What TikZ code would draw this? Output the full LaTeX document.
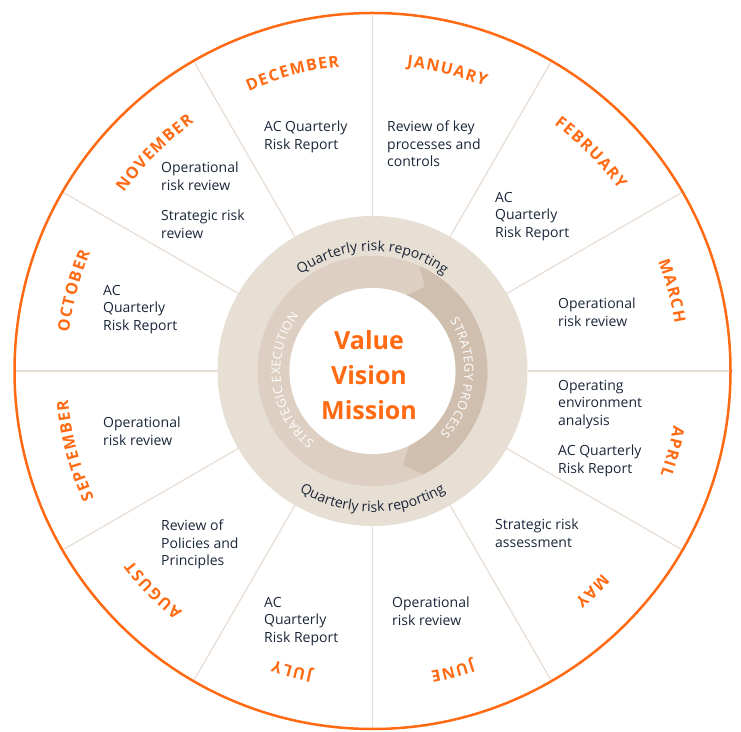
\documentclass[tikz,border=0pt]{standalone}
\usepackage{fontspec}
\setmainfont{Open Sans}
\usetikzlibrary{decorations.text}
\definecolor{morange}{HTML}{FF6A13}
\definecolor{navy}{HTML}{1A2638}
\definecolor{discbeige}{HTML}{E7DED4}
\definecolor{ringlight}{HTML}{DDD0C3}
\definecolor{ringdark}{HTML}{D0BFAF}
\definecolor{spokecol}{HTML}{E6DDD4}
\newcommand\mkrn{\kern1.3pt}
\newcommand\rkrn{\kern0.4pt}
\newcommand\monthfmt{\fontsize{16}{19}\selectfont\bfseries\color{morange}}
\newcommand\qrfmt{\fontsize{14}{17}\selectfont\color{navy}}
\newcommand\ringfmt{\fontsize{12.5}{15}\selectfont\color{white}}
\tikzset{
  spokeline/.style={draw=spokecol, line width=1.2pt},
  bodytext/.style={anchor=north west, inner sep=0pt, align=left, text=navy,
    font=\fontsize{14}{17.5}\selectfont},
  arctext/.style={decorate, decoration={text along path, text align=center, text={#1}}}
}
\begin{document}
\begin{tikzpicture}[x=1pt,y=1pt]
\useasboundingbox (0,0) rectangle (741,731);
\begin{scope}[shift={(372.5,360)}]
  \fill[discbeige] (0,0) circle[radius=155];
  \foreach \a in {0,30,...,330} \draw[spokeline] (\a:155) -- (\a:358);
  \draw[morange, line width=2.5pt] (0,0) circle[radius=358];
  % middle ring
  \fill[ringlight, even odd rule] (0,0) circle[radius=115] (0,0) circle[radius=83];
  \fill[ringdark] (66:115) arc[start angle=66, end angle=-64, radius=115]
     -- (-72:99) -- (-64:83) arc[start angle=-64, end angle=66, radius=83]
     -- (58:99) -- cycle;
  \fill[white] (0,0) circle[radius=83];
  % ring texts
  \path[arctext={|\qrfmt|Quarterly risk reporting}] (150:120) arc[start angle=150, end angle=30, radius=120];
  \path[arctext={|\qrfmt|Quarterly risk reporting}] (210:141) arc[start angle=210, end angle=330, radius=141];
  \path[arctext={|\ringfmt|{S\rkrn}{T\rkrn}{R\rkrn}{A\rkrn}{T\rkrn}{E\rkrn}{G\rkrn}{Y\rkrn} {P\rkrn}{R\rkrn}{O\rkrn}{C\rkrn}{E\rkrn}{S\rkrn}S}] (55:92) arc[start angle=55, end angle=-65, radius=92];
  \path[arctext={|\ringfmt|{S\rkrn}{T\rkrn}{R\rkrn}{A\rkrn}{T\rkrn}{E\rkrn}{G\rkrn}{I\rkrn}{C\rkrn} {E\rkrn}{X\rkrn}{E\rkrn}{C\rkrn}{U\rkrn}{T\rkrn}{I\rkrn}{O\rkrn}N}] (250:92) arc[start angle=250, end angle=124, radius=92];
  % months
  \path[arctext={|\monthfmt|{J\mkrn}{A\mkrn}{N\mkrn}{U\mkrn}{A\mkrn}{R\mkrn}Y}] (116:306) arc[start angle=116, end angle=36, radius=306];
  \path[arctext={|\monthfmt|{F\mkrn}{E\mkrn}{B\mkrn}{R\mkrn}{U\mkrn}{A\mkrn}{R\mkrn}Y}] (85:306) arc[start angle=85, end angle=5, radius=306];
  \path[arctext={|\monthfmt|{M\mkrn}{A\mkrn}{R\mkrn}{C\mkrn}H}] (55:306) arc[start angle=55, end angle=-25, radius=306];
  \path[arctext={|\monthfmt|{A\mkrn}{P\mkrn}{R\mkrn}{I\mkrn}L}] (25:306) arc[start angle=25, end angle=-55, radius=306];
  \path[arctext={|\monthfmt|{M\mkrn}{A\mkrn}Y}] (-5:306) arc[start angle=-5, end angle=-85, radius=306];
  \path[arctext={|\monthfmt|{J\mkrn}{U\mkrn}{N\mkrn}E}] (-35:306) arc[start angle=-35, end angle=-115, radius=306];
  \path[arctext={|\monthfmt|{J\mkrn}{U\mkrn}{L\mkrn}Y}] (-65:306) arc[start angle=-65, end angle=-145, radius=306];
  \path[arctext={|\monthfmt|{A\mkrn}{U\mkrn}{G\mkrn}{U\mkrn}{S\mkrn}T}] (-95:306) arc[start angle=-95, end angle=-175, radius=306];
  \path[arctext={|\monthfmt|{S\mkrn}{E\mkrn}{P\mkrn}{T\mkrn}{E\mkrn}{M\mkrn}{B\mkrn}{E\mkrn}R}] (-125:306) arc[start angle=-125, end angle=-205, radius=306];
  \path[arctext={|\monthfmt|{O\mkrn}{C\mkrn}{T\mkrn}{O\mkrn}{B\mkrn}{E\mkrn}R}] (205:306) arc[start angle=205, end angle=125, radius=306];
  \path[arctext={|\monthfmt|{N\mkrn}{O\mkrn}{V\mkrn}{E\mkrn}{M\mkrn}{B\mkrn}{E\mkrn}R}] (175:306) arc[start angle=175, end angle=95, radius=306];
  \path[arctext={|\monthfmt|{D\mkrn}{E\mkrn}{C\mkrn}{E\mkrn}{M\mkrn}{B\mkrn}{E\mkrn}R}] (145:306) arc[start angle=145, end angle=65, radius=306];
  % centre
  \node[align=center, text=morange, font=\fontsize{25}{35}\selectfont\bfseries] (core) at (-3.5,-4) {Value\\Vision\\Mission};
\end{scope}
\begin{scope}[yshift=731pt, x=1pt, y=-1pt]
  \node[bodytext] (dec) at (264,121) {AC Quarterly\\Risk Report};
  \node[bodytext] (jan) at (387,121) {Review of key\\processes and\\controls};
  \node[bodytext] (feb) at (495,192) {AC\\Quarterly\\Risk Report};
  \node[bodytext] (mar) at (558,298) {Operational\\risk review};
  \node[bodytext] (apra) at (558,380) {Operating\\environment\\analysis};
  \node[bodytext] (aprb) at (558,445) {AC Quarterly\\Risk Report};
  \node[bodytext] (may) at (495,519) {Strategic risk\\assessment};
  \node[bodytext] (jun) at (392,597) {Operational\\risk review};
  \node[bodytext] (jul) at (264,597) {AC\\Quarterly\\Risk Report};
  \node[bodytext] (aug) at (161,520) {Review of\\Policies and\\Principles};
  \node[bodytext] (sep) at (103,417) {Operational\\risk review};
  \node[bodytext] (oct) at (103,285) {AC\\Quarterly\\Risk Report};
  \node[bodytext] (nova) at (161,162) {Operational\\risk review};
  \node[bodytext] (novb) at (161,210) {Strategic risk\\review};
\end{scope}
\end{tikzpicture}
\end{document}
